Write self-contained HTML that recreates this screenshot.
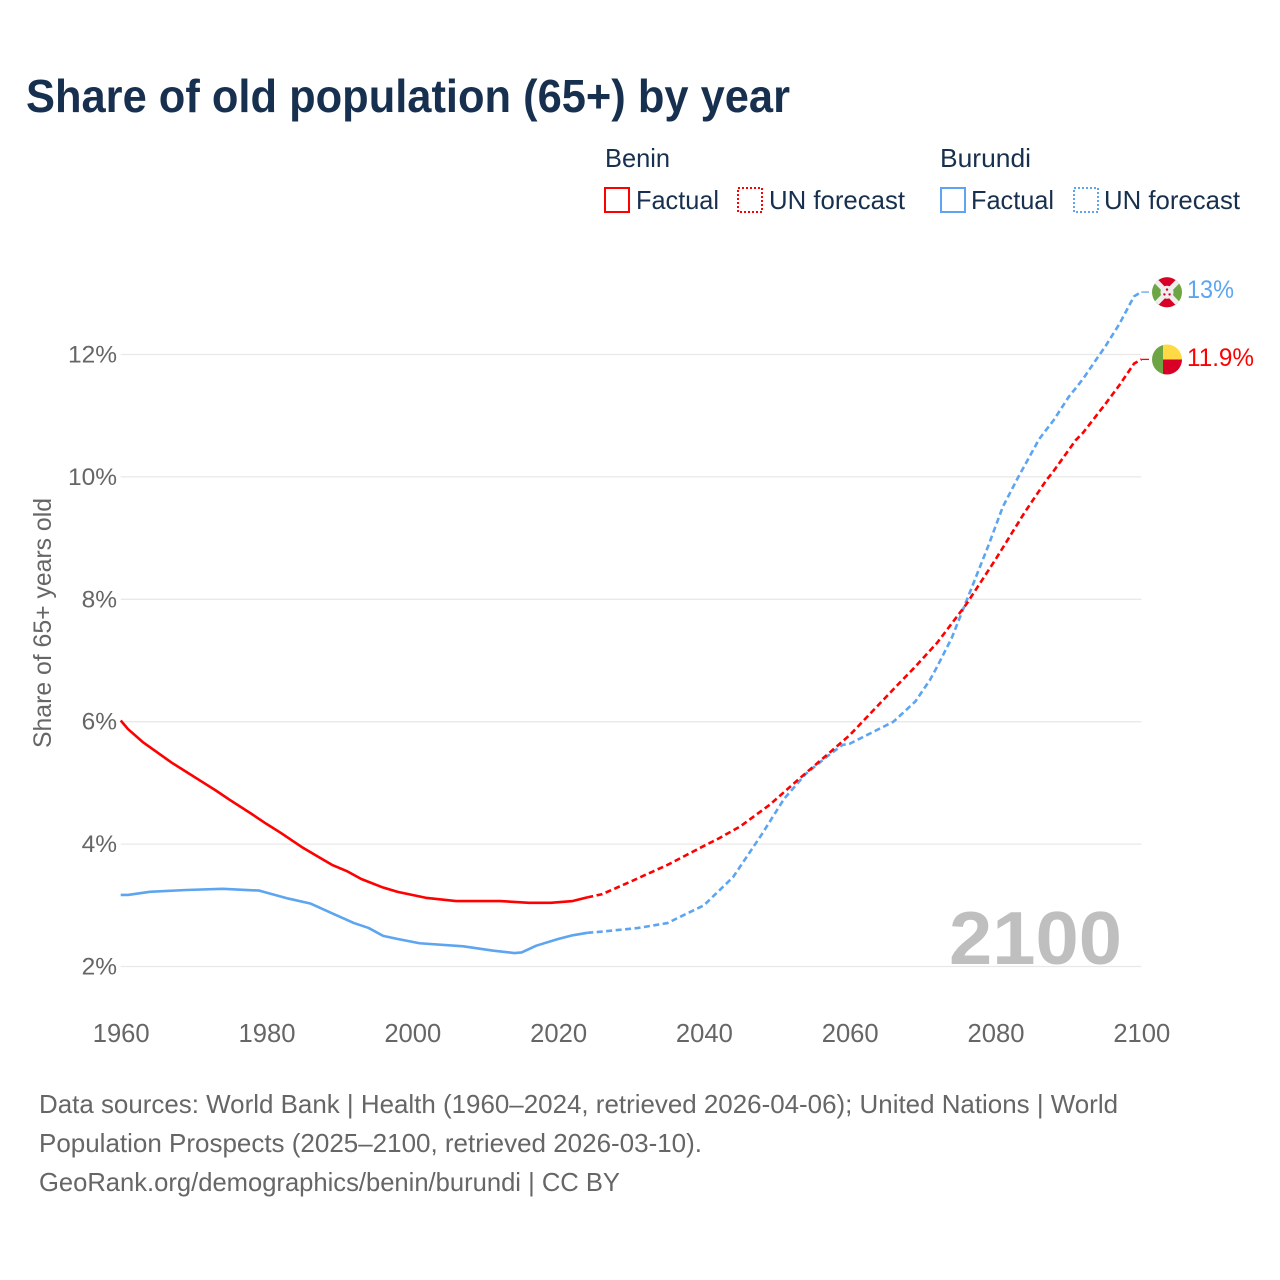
<!DOCTYPE html>
<html lang="en">
<head>
<meta charset="utf-8">
<title>Share of old population (65+) by year</title>
<style>
html,body{margin:0;padding:0;background:#fff}
svg{display:block}
text{font-family:"Liberation Sans",sans-serif}
</style>
</head>
<body>
<svg id="chart" width="1280" height="1280" viewBox="0 0 1280 1280" xmlns="http://www.w3.org/2000/svg">
  <defs>
    <clipPath id="clip-burundi"><circle cx="1167" cy="292.3" r="15"/></clipPath>
    <clipPath id="clip-benin"><circle cx="1167" cy="359.5" r="15"/></clipPath>
  </defs>
  <rect width="1280" height="1280" fill="#fff"/>
  <text x="26" y="112" font-size="46" font-weight="700" fill="#18304f" textLength="764" lengthAdjust="spacingAndGlyphs">Share of old population (65+) by year</text>

  <g font-size="26" fill="#18304f">
    <text x="605" y="167" textLength="65" lengthAdjust="spacingAndGlyphs">Benin</text>
    <rect x="605" y="188" width="24" height="24" fill="none" stroke="#ff0000" stroke-width="2"/>
    <text x="636" y="209" textLength="83" lengthAdjust="spacingAndGlyphs">Factual</text>
    <rect x="738" y="188" width="24" height="24" fill="none" stroke="#ff0000" stroke-width="2" stroke-dasharray="2 2"/>
    <text x="769" y="209" textLength="136" lengthAdjust="spacingAndGlyphs">UN forecast</text>
    <text x="940" y="167" textLength="91" lengthAdjust="spacingAndGlyphs">Burundi</text>
    <rect x="941" y="188" width="24" height="24" fill="none" stroke="#5da5f0" stroke-width="2"/>
    <text x="971" y="209" textLength="83" lengthAdjust="spacingAndGlyphs">Factual</text>
    <rect x="1074" y="188" width="24" height="24" fill="none" stroke="#5da5f0" stroke-width="2" stroke-dasharray="2 2"/>
    <text x="1104" y="209" textLength="136" lengthAdjust="spacingAndGlyphs">UN forecast</text>
  </g>

  <g id="grid"></g>
  <g id="y-axis"></g>
  <g id="x-axis"></g>
  <text transform="translate(51,748) rotate(-90)" font-size="25" fill="#666" textLength="250" lengthAdjust="spacingAndGlyphs">Share of 65+ years old</text>

  <text x="949" y="964" font-size="75" font-weight="700" fill="#bfbfbf" textLength="173" lengthAdjust="spacingAndGlyphs">2100</text>

  <g id="series"></g>

  <g clip-path="url(#clip-burundi)">
    <rect x="1152" y="277" width="30" height="31" fill="#6da544"/>
    <polygon points="1152,277 1182,277 1167,292.3" fill="#d80027"/>
    <polygon points="1152,308 1182,308 1167,292.3" fill="#d80027"/>
    <line x1="1152" y1="277" x2="1182" y2="308" stroke="#eeeeee" stroke-width="5"/>
    <line x1="1182" y1="277" x2="1152" y2="308" stroke="#eeeeee" stroke-width="5"/>
    <circle cx="1167" cy="292.3" r="6.5" fill="#eeeeee"/>
    <circle cx="1167" cy="289.6" r="1.2" fill="#d80027"/>
    <circle cx="1164.4" cy="294.4" r="1.2" fill="#d80027"/>
    <circle cx="1169.6" cy="294.4" r="1.2" fill="#d80027"/>
  </g>
  <g clip-path="url(#clip-benin)">
    <rect x="1152" y="344" width="11" height="31" fill="#6da544"/>
    <rect x="1163" y="344" width="19" height="15.5" fill="#ffda44"/>
    <rect x="1163" y="359.5" width="19" height="15.5" fill="#d80027"/>
  </g>
  <text x="1187" y="298" font-size="25" fill="#5da5f0" textLength="47" lengthAdjust="spacingAndGlyphs">13%</text>
  <text x="1187" y="366" font-size="25" fill="#ff0000" textLength="67" lengthAdjust="spacingAndGlyphs">11.9%</text>

  <g font-size="26" fill="#666">
    <text x="39" y="1113" textLength="1079" lengthAdjust="spacingAndGlyphs">Data sources: World Bank | Health (1960–2024, retrieved 2026-04-06); United Nations | World</text>
    <text x="39" y="1152" textLength="663" lengthAdjust="spacingAndGlyphs">Population Prospects (2025–2100, retrieved 2026-03-10).</text>
    <text x="39" y="1191" textLength="581" lengthAdjust="spacingAndGlyphs">GeoRank.org/demographics/benin/burundi | CC BY</text>
  </g>
</svg>
<script>
const xTicks = [1960, 1980, 2000, 2020, 2040, 2060, 2080, 2100];
const yTicks = [2, 4, 6, 8, 10, 12];

const beninFactualYears = [1960,1961,1963,1965,1967,1969,1971,1973,1975,1978,1980,1982,1985,1987,1989,1991,1993,1996,1998,2002,2006,2012,2016,2019,2022,2024];
const beninFactualValues = [6.02,5.88,5.67,5.5,5.33,5.18,5.03,4.88,4.72,4.49,4.33,4.18,3.94,3.8,3.66,3.56,3.43,3.29,3.22,3.12,3.07,3.07,3.04,3.04,3.07,3.13];
const beninForecastYears = [2024,2026,2030,2035,2040,2042,2045,2049,2053,2057,2060,2062,2066,2069,2072,2076,2080,2084,2087,2088,2091,2092,2095,2097,2099,2100];
const beninForecastValues = [3.13,3.18,3.39,3.66,3.97,4.09,4.29,4.64,5.06,5.47,5.78,6.03,6.53,6.9,7.29,7.92,8.65,9.42,9.95,10.1,10.6,10.72,11.18,11.5,11.85,11.92];

const burundiFactualYears = [1960,1961,1964,1969,1974,1979,1983,1986,1989,1992,1994,1996,1998,2001,2007,2011,2014,2015,2017,2020,2022,2024];
const burundiFactualValues = [3.17,3.17,3.22,3.25,3.27,3.24,3.11,3.03,2.87,2.71,2.63,2.5,2.45,2.38,2.33,2.26,2.22,2.23,2.34,2.45,2.51,2.55];
const burundiForecastYears = [2024,2026,2031,2035,2040,2044,2048,2051,2054,2057,2059,2060,2063,2066,2069,2071,2072,2074,2077,2079,2081,2083,2086,2088,2090,2092,2094,2095,2097,2099,2100];
const burundiForecastValues = [2.55,2.57,2.63,2.71,3.0,3.46,4.17,4.74,5.15,5.44,5.62,5.64,5.82,6.0,6.33,6.68,6.9,7.37,8.27,8.87,9.51,9.97,10.62,10.93,11.3,11.6,11.95,12.12,12.5,12.95,13.02];

const NS = 'http://www.w3.org/2000/svg';
const xScale = function (year) { return 120.7 + (year - 1960) * 7.29; };
const yScale = function (value) { return 966.5 - (value - 2) * 61.2; };
const CONNECTOR_END = 1149;

const grid = document.getElementById('grid');
const yAxis = document.getElementById('y-axis');
const xAxis = document.getElementById('x-axis');
const seriesLayer = document.getElementById('series');

yTicks.forEach(function (t) {
  const line = document.createElementNS(NS, 'line');
  
  
  line.setAttribute('x1', xScale(1960));
  line.setAttribute('x2', xScale(2100));
  line.setAttribute('y1', yScale(t));
  line.setAttribute('y2', yScale(t));
  line.setAttribute('stroke', '#e9e9e9');
  line.setAttribute('stroke-width', '1.3');
  grid.appendChild(line);

  const label = document.createElementNS(NS, 'text');
  
  
  label.setAttribute('x', 117);
  label.setAttribute('y', yScale(t) + 8);
  label.setAttribute('text-anchor', 'end');
  label.setAttribute('font-size', '24.5');
  label.setAttribute('fill', '#666');
  label.textContent = t + '%';
  yAxis.appendChild(label);
});

xTicks.forEach(function (t) {
  const label = document.createElementNS(NS, 'text');
  
  
  label.setAttribute('x', xScale(t) + 0.5);
  label.setAttribute('y', 1042);
  label.setAttribute('text-anchor', 'middle');
  label.setAttribute('font-size', '25.6');
  label.setAttribute('fill', '#666');
  label.textContent = String(t);
  xAxis.appendChild(label);
});

function pathFrom(years, values) {
  return years.map(function (y, i) {
    return (i ? 'L' : 'M') + xScale(y).toFixed(2) + ' ' + yScale(values[i]).toFixed(2);
  }).join(' ');
}

function drawLine(years, values, color, dashed, name) {
  const p = document.createElementNS(NS, 'path');
  
  
  p.setAttribute('d', pathFrom(years, values));
  p.setAttribute('fill', 'none');
  p.setAttribute('stroke', color);
  p.setAttribute('stroke-width', '2.6');
  p.setAttribute('stroke-linejoin', 'round');
  if (dashed) p.setAttribute('stroke-dasharray', '6 3.5');
  seriesLayer.appendChild(p);
}

function drawConnector(lastValue, color, name) {
  const c = document.createElementNS(NS, 'line');
  
  
  c.setAttribute('x1', xScale(2100));
  c.setAttribute('x2', CONNECTOR_END);
  c.setAttribute('y1', yScale(lastValue));
  c.setAttribute('y2', yScale(lastValue));
  c.setAttribute('stroke', color);
  c.setAttribute('stroke-width', '1.3');
  seriesLayer.appendChild(c);
}

const RED = '#ff0000';
const BLUE = '#5da5f0';
drawLine(burundiFactualYears, burundiFactualValues, BLUE, false, 'line-burundi-factual');
drawLine(burundiForecastYears, burundiForecastValues, BLUE, true, 'line-burundi-forecast');
drawConnector(burundiForecastValues[burundiForecastValues.length - 1], BLUE, 'connector-burundi');
drawLine(beninFactualYears, beninFactualValues, RED, false, 'line-benin-factual');
drawLine(beninForecastYears, beninForecastValues, RED, true, 'line-benin-forecast');
drawConnector(beninForecastValues[beninForecastValues.length - 1], RED, 'connector-benin');
</script>
</body>
</html>
